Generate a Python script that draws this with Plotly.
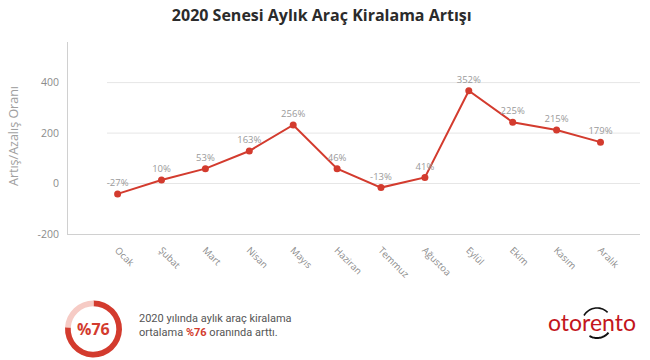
import numpy as np
import plotly.graph_objects as go

# ---- data ----
months = ["Ocak", "Şubat", "Mart", "Nisan", "Mayıs", "Haziran",
          "Temmuz", "Ağustoa", "Eylül", "Ekim", "Kasım", "Aralık"]
plotted_values = [-41, 14, 59, 129, 232, 59, -16, 24, 368, 243, 212, 164]
value_labels = ["-27%", "10%", "53%", "163%", "256%", "46%",
                "-13%", "41%", "352%", "225%", "215%", "179%"]
y_ticks = [-200, 0, 200, 400]
y_tick_labels = ["-200", "0", "200", "400"]
avg_increase = 76  # percent

W, H = 650, 360
RED = "#d33b2e"
GRAY = "#8c8c8c"
FONT = "Open Sans"

# plot area in pixels
PX_L, PX_R, PX_T, PX_B = 68, 640, 42, 234

def px(x):
    return x / W

def py(y):
    return 1 - y / H

fig = go.Figure()

fig.add_trace(go.Scatter(
    x=months, y=plotted_values,
    mode="lines+markers+text",
    line=dict(color=RED, width=2),
    marker=dict(color=RED, size=7),
    text=value_labels,
    textposition="top center",
    textfont=dict(family=FONT, size=9.5, color="#9a9a9a"),
    cliponaxis=False,
    showlegend=False,
    hoverinfo="x+text",
))

# donut
cx, cy, r = 93.5, 329, 28.5
fig.add_trace(go.Pie(
    values=[avg_increase, 100 - avg_increase],
    marker=dict(colors=[RED, "#f6cbc5"], line=dict(width=0)),
    hole=0.8, sort=False, direction="clockwise", rotation=0,
    textinfo="none", hoverinfo="skip", showlegend=False,
    domain=dict(x=[px(cx - r), px(cx + r)], y=[py(cy + r), py(cy - r)]),
))

shapes = []
# gridlines (shorter than plot area, start right of the axis)
for t in y_ticks[1:]:
    shapes.append(dict(type="line", xref="paper", yref="y",
                       x0=px(107), x1=px(PX_R), y0=t, y1=t,
                       line=dict(color="#e6e6e6", width=1), layer="below"))

# logo swoosh around the 'e'
lx, ly, lr = 597, 323, 15
def arc(a0, a1, n=24):
    a = np.radians(np.linspace(a0, a1, n))
    xs = (lx + lr * np.cos(a)) / W
    ys = 1 - (ly - lr * 1.0 * np.sin(a)) / H
    return "M " + " L ".join(f"{x:.5f},{y:.5f}" for x, y in zip(xs, ys))
shapes.append(dict(type="path", xref="paper", yref="paper", path=arc(150, 45),
                   line=dict(color="#111", width=1.6)))
shapes.append(dict(type="path", xref="paper", yref="paper", path=arc(-40, -120),
                   line=dict(color="#111", width=2)))

annotations = [
    dict(text="<b>%76</b>", x=px(cx), y=py(cy), xref="paper", yref="paper",
         showarrow=False, font=dict(family=FONT, size=16, color=RED),
         xanchor="center", yanchor="middle"),
    dict(text="2020 yılında aylık araç kiralama<br>ortalama "
              f"<b><span style='color:{RED}'>%{avg_increase}</span></b> oranında arttı.",
         x=px(137), y=py(325), xref="paper", yref="paper", showarrow=False,
         align="left", xanchor="left", yanchor="middle",
         font=dict(family="Roboto", size=11, color="#555")),
    dict(text="otorento", x=px(592), y=py(322), xref="paper", yref="paper",
         showarrow=False, xanchor="center", yanchor="middle",
         font=dict(family="Lato", size=23, color="#c3161c")),
    dict(text="Artış/Azalış Oranı", x=px(13), y=py(136), xref="paper", yref="paper",
         showarrow=False, textangle=-90, xanchor="center", yanchor="middle",
         font=dict(family=FONT, size=12.5, color="#a0a0a0")),
]

fig.update_layout(
    width=W, height=H,
    margin=dict(l=0, r=0, t=0, b=0),
    paper_bgcolor="white", plot_bgcolor="white",
    title=dict(text="<b>2020 Senesi Aylık Araç Kiralama Artışı</b>",
               x=0.495, xanchor="center", y=py(15), yanchor="middle",
               yref="container",
               font=dict(family=FONT, size=16, color="#2b2b2b")),
    xaxis=dict(domain=[px(PX_L), px(PX_R)], range=[-1.13, 11.9],
               showline=True, linecolor="#d0d0d0", linewidth=1,
               showgrid=False, zeroline=False, tickangle=45,
               ticks="", ticklabelstandoff=6,
               tickfont=dict(family=FONT, size=9.5, color=GRAY),
               automargin=False, fixedrange=True),
    yaxis=dict(domain=[py(PX_B), py(PX_T)], range=[-200, 561],
               tickvals=y_ticks, ticktext=y_tick_labels,
               showline=True, linecolor="#d0d0d0", linewidth=1,
               showgrid=False, zeroline=False, ticks="",
               ticklabelstandoff=6,
               tickfont=dict(family=FONT, size=10.5, color=GRAY),
               automargin=False, fixedrange=True),
    shapes=shapes,
    annotations=annotations,
)

fig.write_html(
    "out.html",
    config={"displayModeBar": False},
    post_script="document.body.style.margin='0';document.body.style.overflow='hidden';",
)
